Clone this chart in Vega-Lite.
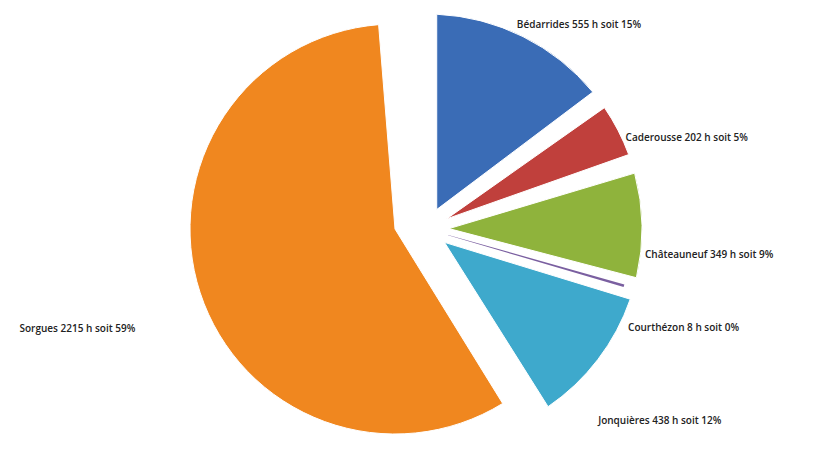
{
  "$schema": "https://vega.github.io/schema/vega-lite/v6.json",
  "width": 826,
  "height": 458,
  "padding": 0,
  "autosize": {"type": "fit", "contains": "padding"},
  "background": "white",
  "config": {"view": {"stroke": null}},
  "data": {
    "values": [
      {"order": 1, "commune": "Bédarrides", "hours": 555, "label": "Bédarrides 555 h soit 15%"},
      {"order": 2, "commune": "Caderousse", "hours": 202, "label": "Caderousse 202 h soit 5%"},
      {"order": 3, "commune": "Châteauneuf", "hours": 349, "label": "Châteauneuf 349 h soit 9%"},
      {"order": 4, "commune": "Courthézon", "hours": 8, "label": "Courthézon 8 h soit 0%"},
      {"order": 5, "commune": "Jonquières", "hours": 438, "label": "Jonquières 438 h soit 12%"},
      {"order": 6, "commune": "Sorgues", "hours": 2215, "label": "Sorgues 2215 h soit 59%"}
    ]
  },
  "transform": [
    {"stack": "hours", "groupby": [], "sort": [{"field": "order"}], "as": ["t0", "t1"]},
    {"calculate": "(datum.t0 + datum.t1) / 2", "as": "mid"}
  ],
  "encoding": {
    "color": {
      "field": "commune",
      "type": "nominal",
      "legend": null,
      "scale": {
        "domain": ["Bédarrides", "Caderousse", "Châteauneuf", "Courthézon", "Jonquières", "Sorgues"],
        "range": ["#3a6cb6", "#c0403c", "#8fb33c", "#7a5fa0", "#3ea9cc", "#f0871f"]
      }
    }
  },
  "layer": [
    {
      "transform": [{"filter": "datum.commune == 'Sorgues'"}],
      "mark": {"type": "arc", "radius": 205, "xOffset": -18, "theta2Offset": -0.08, "stroke": "white", "strokeWidth": 1},
      "encoding": {
        "theta": {"field": "t0", "type": "quantitative", "stack": null, "scale": {"domain": [0, 3767]}},
        "theta2": {"field": "t1"}
      }
    },
    {
      "transform": [{"filter": "datum.commune != 'Sorgues' && datum.commune != 'Courthézon'"}],
      "mark": {"type": "arc", "radius": 215, "radius2": 22, "xOffset": 14, "padAngle": 0.09, "stroke": "white", "strokeWidth": 1},
      "encoding": {
        "theta": {"field": "t0", "type": "quantitative", "stack": null, "scale": {"domain": [0, 3767]}},
        "theta2": {"field": "t1"}
      }
    },
    {
      "transform": [{"filter": "datum.commune == 'Courthézon'"}],
      "mark": {"type": "arc", "radius": 205, "radius2": 22, "xOffset": 14},
      "encoding": {
        "theta": {"field": "t0", "type": "quantitative", "stack": null, "scale": {"domain": [0, 3767]}},
        "theta2": {"field": "t1"}
      }
    },
    {
      "transform": [{"filter": "datum.commune == 'Bédarrides'"}],
      "mark": {"type": "text", "radius": 228, "align": "left", "baseline": "middle", "font": "Open Sans", "fontSize": 10, "fontWeight": 600, "xOffset": 2},
      "encoding": {
        "theta": {"field": "mid", "type": "quantitative", "stack": null, "scale": {"domain": [0, 3767]}},
        "text": {"field": "label"},
        "color": {"value": "#222222"}
      }
    },
    {
      "transform": [{"filter": "datum.commune == 'Caderousse'"}],
      "mark": {"type": "text", "radius": 228, "align": "left", "baseline": "middle", "font": "Open Sans", "fontSize": 10, "fontWeight": 600, "xOffset": 10, "yOffset": 14},
      "encoding": {
        "theta": {"field": "mid", "type": "quantitative", "stack": null, "scale": {"domain": [0, 3767]}},
        "text": {"field": "label"},
        "color": {"value": "#222222"}
      }
    },
    {
      "transform": [{"filter": "datum.commune == 'Châteauneuf'"}],
      "mark": {"type": "text", "radius": 228, "align": "left", "baseline": "middle", "font": "Open Sans", "fontSize": 10, "fontWeight": 600, "xOffset": 4, "yOffset": 30},
      "encoding": {
        "theta": {"field": "mid", "type": "quantitative", "stack": null, "scale": {"domain": [0, 3767]}},
        "text": {"field": "label"},
        "color": {"value": "#222222"}
      }
    },
    {
      "transform": [{"filter": "datum.commune == 'Courthézon'"}],
      "mark": {"type": "text", "radius": 228, "align": "left", "baseline": "middle", "font": "Open Sans", "fontSize": 10, "fontWeight": 600, "xOffset": -4, "yOffset": 36},
      "encoding": {
        "theta": {"field": "mid", "type": "quantitative", "stack": null, "scale": {"domain": [0, 3767]}},
        "text": {"field": "label"},
        "color": {"value": "#222222"}
      }
    },
    {
      "transform": [{"filter": "datum.commune == 'Jonquières'"}],
      "mark": {"type": "text", "radius": 228, "align": "left", "baseline": "middle", "font": "Open Sans", "fontSize": 10, "fontWeight": 600, "xOffset": 4, "yOffset": 54},
      "encoding": {
        "theta": {"field": "mid", "type": "quantitative", "stack": null, "scale": {"domain": [0, 3767]}},
        "text": {"field": "label"},
        "color": {"value": "#222222"}
      }
    },
    {
      "transform": [{"filter": "datum.commune == 'Sorgues'"}],
      "mark": {"type": "text", "radius": 220, "align": "right", "baseline": "middle", "font": "Open Sans", "fontSize": 10, "fontWeight": 600, "xOffset": -66, "yOffset": 40},
      "encoding": {
        "theta": {"field": "mid", "type": "quantitative", "stack": null, "scale": {"domain": [0, 3767]}},
        "text": {"field": "label"},
        "color": {"value": "#222222"}
      }
    }
  ]
}
